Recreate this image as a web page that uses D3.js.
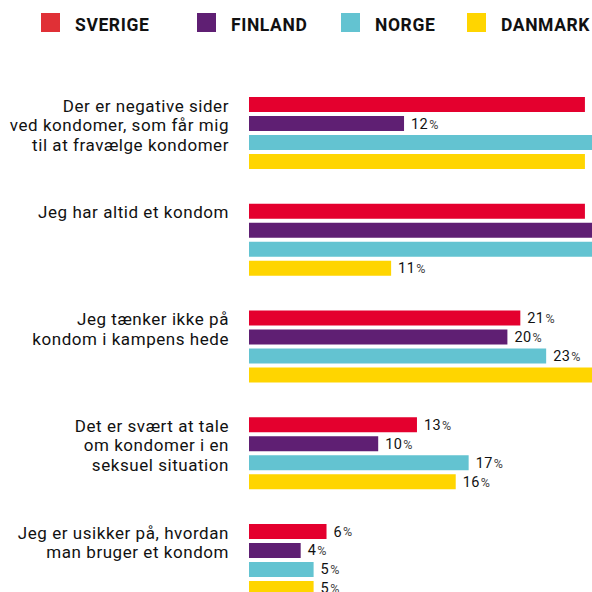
<!DOCTYPE html>
<html>
<head>
<meta charset="utf-8">
<script src="https://cdn.jsdelivr.net/npm/d3@7"></script>
<style>
  html, body { margin: 0; padding: 0; background: #fff; overflow: hidden; }
  svg { display: block; }
</style>
</head>
<body>
<svg id="chart" width="592" height="592"></svg>
<script>
// ---- data ----
const categories = [
  "Der er negative sider\nved kondomer, som får mig\ntil at fravælge kondomer",
  "Jeg har altid et kondom",
  "Jeg tænker ikke på\nkondom i kampens hede",
  "Det er svært at tale\nom kondomer i en\nseksuel situation",
  "Jeg er usikker på, hvordan\nman bruger et kondom"
];
const seriesNames = ["SVERIGE", "FINLAND", "NORGE", "DANMARK"];
const sverige = [26, 26, 21, 13, 6];
const finland = [12, 35, 20, 10, 4];
const norge   = [29, 33, 23, 17, 5];
const danmark = [26, 11, 29, 16, 5];
const barColors = ["#e4002e", "#5f1f73", "#63c3d1", "#ffd500"];
const legendColors = ["#e03036", "#5f1f73", "#63c3d1", "#ffd500"];

const seriesValues = [sverige, finland, norge, danmark];

// ---- layout ----
const svg = d3.select("#chart");
const barLeft = 249;
const pxPerPct = 12.92;
const labelRight = 229;
const legendX = [41, 197, 341, 467];

const x = d3.scaleLinear().domain([0, 100]).range([barLeft, barLeft + 100 * pxPerPct]);
const y0 = d3.scaleBand().domain(d3.range(categories.length)).range([97, 596]).paddingInner(0.3255).paddingOuter(0);
const y1 = d3.scaleBand().domain(seriesNames).range([0, y0.bandwidth()]).paddingInner(4 / 19).paddingOuter(0);
const color = d3.scaleOrdinal().domain(seriesNames).range(barColors);
const legendColor = d3.scaleOrdinal().domain(seriesNames).range(legendColors);

// ---- legend ----
const legend = svg.append("g").attr("class", "legend");
seriesNames.forEach((name, i) => {
  const g = legend.append("g").attr("transform", `translate(${legendX[i]},13)`);
  g.append("rect").attr("width", 19).attr("height", 19).attr("fill", legendColor(name));
  g.append("text")
    .attr("x", 34).attr("y", 18)
    .attr("font-family", "Roboto, 'DejaVu Sans', sans-serif")
    .attr("font-weight", 700)
    .attr("font-size", 17.5)
    .attr("letter-spacing", 0.6)
    .attr("fill", "#111")
    .text(name);
});

// ---- groups ----
const rows = categories.map((c, i) => ({
  cat: c, idx: i,
  vals: seriesNames.map((s, j) => ({ s, v: seriesValues[j][i] }))
}));

const group = svg.append("g").selectAll("g.grp").data(rows).join("g")
  .attr("class", "grp")
  .attr("transform", d => `translate(0,${y0(d.idx)})`);

// category labels (top aligned)
group.append("text")
  .attr("text-anchor", "end")
  .attr("font-family", "Roboto, 'DejaVu Sans', sans-serif")
  .attr("font-size", 17)
  .attr("letter-spacing", 0.55)
  .attr("fill", "#111")
  .each(function(d) {
    const t = d3.select(this);
    d.cat.split("\n").forEach((line, k) => {
      t.append("tspan").attr("x", labelRight).attr("y", 14.7 + k * 19.4).text(line);
    });
  });

// bars
group.selectAll("rect.bar").data(d => d.vals).join("rect")
  .attr("class", "bar")
  .attr("x", x(0))
  .attr("y", d => y1(d.s))
  .attr("width", d => x(d.v) - x(0))
  .attr("height", y1.bandwidth())
  .attr("fill", d => color(d.s));

// value labels
const vl = group.selectAll("text.val").data(d => d.vals).join("text")
  .attr("class", "val")
  .attr("x", d => x(d.v) + 7)
  .attr("y", d => y1(d.s) + y1.bandwidth() / 2 + 5)
  .attr("font-family", "Roboto, 'DejaVu Sans', sans-serif")
  .attr("font-size", 14.5)
  .attr("letter-spacing", 0.4)
  .attr("fill", "#111");
vl.append("tspan").text(d => d.v);
vl.append("tspan").attr("dx", 1).attr("font-size", 12.5).attr("fill", "#444").text("%");
</script>
</body>
</html>
